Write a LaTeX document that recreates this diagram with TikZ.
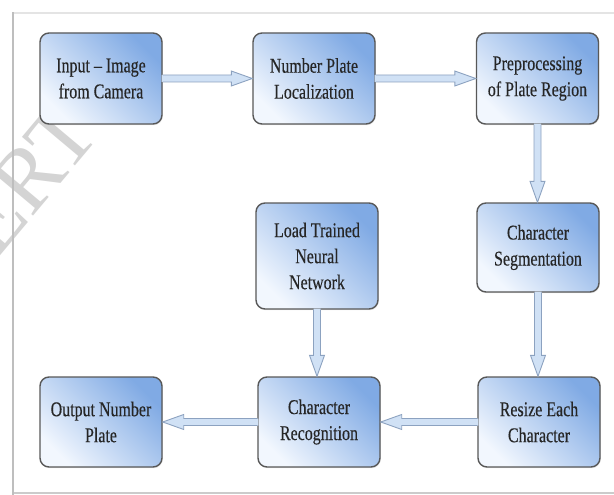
\documentclass[tikz,border=0pt]{standalone}
\usepackage{fontspec}
\setmainfont[FakeStretch=0.76,FakeBold=0.3]{Liberation Serif}
\newfontfamily\wmfont{Liberation Serif}
\usetikzlibrary{calc,shadows}
\definecolor{boxdark}{RGB}{128,170,228}
\definecolor{boxlight}{RGB}{242,247,254}
\definecolor{boxline}{RGB}{88,88,88}
\definecolor{arrfill}{RGB}{208,225,245}
\definecolor{arrline}{RGB}{140,162,192}
\definecolor{framegray}{RGB}{190,190,190}
\definecolor{framelight}{RGB}{228,228,228}
\tikzset{
  procbox/.style={draw=boxline, line width=1.4pt, rounded corners=9pt,
    shading=axis, top color=boxdark, bottom color=boxlight, shading angle=-45,
    align=center, font=\fontsize{21}{26}\selectfont, text=black!85, inner sep=0pt,
    minimum width=122pt, minimum height=91pt,
    drop shadow={opacity=0.18, shadow xshift=0.8pt, shadow yshift=-1.2pt}},
}
\newcommand{\blockarrow}[2]{%
  \path let \p1=(#1), \p2=(#2),
     \n1={atan2(\y2-\y1,\x2-\x1)}, \n2={veclen(\x2-\x1,\y2-\y1)} in
   [shift={(\p1)}, rotate=\n1]
   [fill=arrfill] (-1pt,-3.5pt) -- ({(\n2-21)*1pt},-3.5pt) -- ({(\n2-21)*1pt},-7.5pt)
     -- ({\n2*1pt},0pt) -- ({(\n2-21)*1pt},7.5pt) -- ({(\n2-21)*1pt},3.5pt) -- (-1pt,3.5pt) -- cycle;
  \path let \p1=(#1), \p2=(#2),
     \n1={atan2(\y2-\y1,\x2-\x1)}, \n2={veclen(\x2-\x1,\y2-\y1)} in
   [shift={(\p1)}, rotate=\n1]
   [draw=arrline, line width=0.9pt] (0pt,-3.5pt) -- ({(\n2-21)*1pt},-3.5pt) -- ({(\n2-21)*1pt},-7.5pt)
     -- ({\n2*1pt},0pt) -- ({(\n2-21)*1pt},7.5pt) -- ({(\n2-21)*1pt},3.5pt) -- (0pt,3.5pt);
}
\begin{document}
\begin{tikzpicture}[x=1pt,y=-1pt]
\useasboundingbox (0,0) rectangle (614,495);
\fill[white] (0,0) rectangle (614,495);
% watermark
\begin{scope}
\clip (0,0) rectangle (614,495);
\node[rotate=50, text=black!17, font=\wmfont\fontsize{90}{90}\selectfont, inner sep=0pt] (wm) at (6,204) {IJERT};
\end{scope}
% frame
\draw[framelight, line width=1.2pt] (13,13) -- (614,13);
\draw[framegray!80, line width=1.2pt] (13,493) -- (614,493);
\draw[framegray, line width=2.4pt] (13,12.4) -- (13,495);

% boxes
\node[procbox] (cam) at (101,78.5) {Input -- Image\\from Camera};
\node[procbox] (loc) at (314,78.5) {Number Plate\\Localization};
\node[procbox] (pre) at (537.5,78.5) {Preprocessing\\of Plate Region};
\node[procbox, minimum height=106pt] (nn) at (317,256) {Load Trained\\Neural\\Network};
\node[procbox, minimum height=89pt] (seg) at (538,247.5) {Character\\Segmentation};
\node[procbox, minimum height=90pt] (out) at (101,422) {Output Number\\Plate};
\node[procbox, minimum height=90pt] (rec) at (319,422) {Character\\Recognition};
\node[procbox, minimum height=90pt] (res) at (539,422) {Resize Each\\Character};

% arrows
\blockarrow{cam.east}{loc.west}
\blockarrow{loc.east}{pre.west}
\blockarrow{pre.south}{pre.south |- seg.north}
\blockarrow{seg.south}{seg.south |- res.north}
\blockarrow{nn.south}{nn.south |- rec.north}
\blockarrow{res.west}{rec.east}
\blockarrow{rec.west}{out.east}
\end{tikzpicture}
\end{document}
